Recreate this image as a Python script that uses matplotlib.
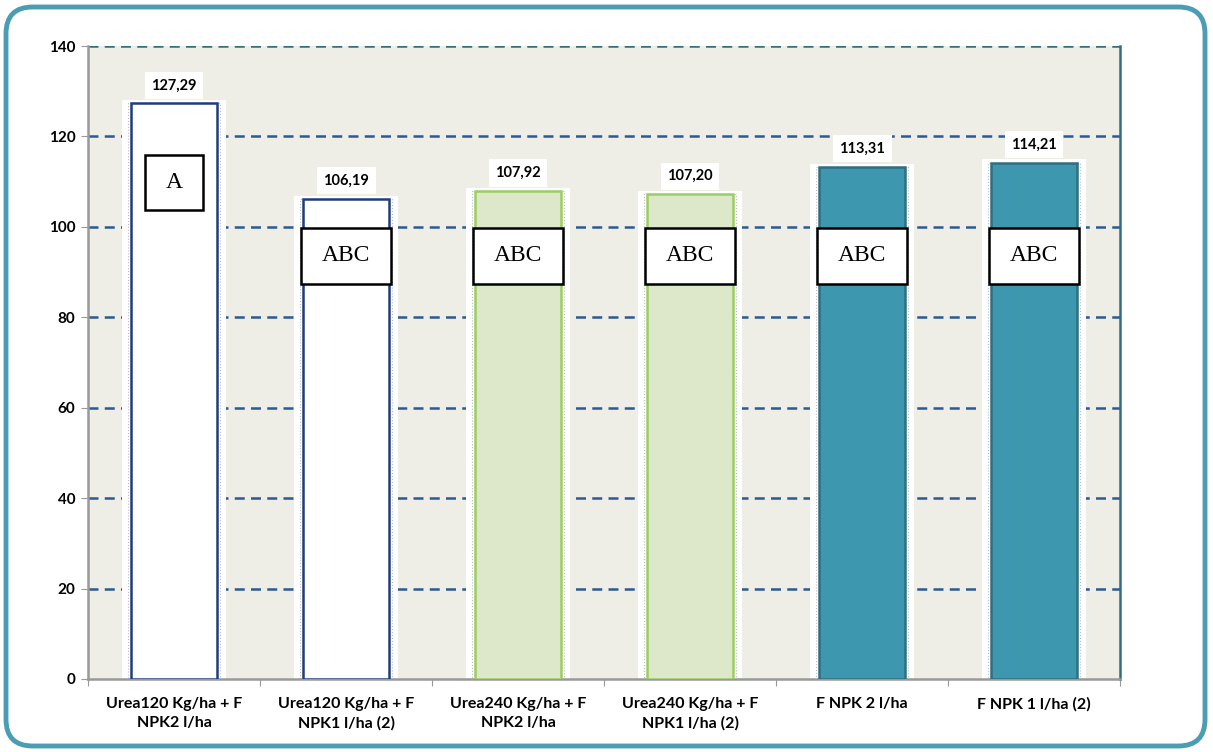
import numpy as np
import matplotlib.pyplot as plt
from matplotlib.patches import Rectangle, FancyBboxPatch

# ── Data ───────────────────────────────────────────────────────────────────────
categories = ['Urea120 Kg/ha + F\nNPK2 l/ha', 'Urea120 Kg/ha + F\nNPK1 l/ha (2)',
              'Urea240 Kg/ha + F\nNPK2 l/ha', 'Urea240 Kg/ha + F\nNPK1 l/ha (2)',
              'F NPK 2 l/ha', 'F NPK 1 l/ha (2)']
values  = [127.29, 106.19, 107.92, 107.20, 113.31, 114.21]
labels  = ['127,29', '106,19', '107,92', '107,20', '113,31', '114,21']
letters = ['A', 'ABC', 'ABC', 'ABC', 'ABC', 'ABC']

# ── Style ──────────────────────────────────────────────────────────────────────
faces = ['white', 'white', '#DDE7C9', '#DDE7C9', '#3D97AE', '#3D97AE']
edges = ['#1F3C7C', '#1F3C7C', '#9ACD62', '#9ACD62', '#2F6F80', '#2F6F80']
BG    = '#EFEEE6'
GRID  = '#2B5A94'

fig = plt.figure(figsize=(12.13, 7.52), dpi=100)
ax = fig.add_axes([88 / 1213, 1 - 679 / 752, (1120 - 88) / 1213, (679 - 46) / 752])
ax.set_facecolor(BG)

x = np.arange(len(values))

# white halo strips behind each bar
ax.bar(x, np.array(values) + 0.7, width=0.6, color='white', zorder=2)
ax.bar(x, values, width=0.535, color='none', edgecolor='#BBBBBB',
       linestyle=':', linewidth=0.8, zorder=2.5)
ax.bar(x, values, width=0.5, color=faces, edgecolor=edges, linewidth=1.8, zorder=3)

# value labels
for xi, v, lab in zip(x, values, labels):
    ax.annotate(lab, (xi, v), xytext=(0, 13), textcoords='offset points',
                ha='center', va='center', fontsize=10.5, fontweight='bold',
                family='Lato', zorder=5,
                bbox=dict(boxstyle='square,pad=0.45', fc='white', ec='none'))

# significance letter boxes
for xi, let in zip(x, letters):
    if let == 'A':
        w, y0, h = 0.34, 103.7, 12.2
    else:
        w, y0, h = 0.52, 87.4, 12.4
    ax.add_patch(Rectangle((xi - w / 2, y0), w, h, fc='white', ec='black',
                           lw=1.8, zorder=6))
    ax.text(xi, y0 + h / 2, let, ha='center', va='center', fontsize=17,
            family='Liberation Serif', zorder=7)

# grid
for gy in range(20, 141, 20):
    ax.axhline(gy, color=GRID if gy < 140 else '#2F6F80', ls=(0, (4, 2.5)),
               lw=1.8, zorder=1)

ax.set_xlim(-0.5, len(values) - 0.5)
ax.set_ylim(0, 140)
ax.set_yticks(range(0, 141, 20))
ax.set_xticks(np.arange(-0.5, len(values), 1.0))
ax.set_xticklabels([])
ax.set_xticks(x, minor=True)
ax.set_xticklabels(categories, minor=True, fontsize=11.5, fontweight='bold',
                   family='Lato', linespacing=1.45)
ax.tick_params(axis='x', which='minor', length=0, pad=13)
ax.tick_params(axis='x', which='major', length=5, color='#999999', direction='out')
ax.tick_params(axis='y', length=5, color='#999999', pad=4)
for t in ax.get_yticklabels():
    t.set_fontweight('bold')
    t.set_fontsize(11)
    t.set_family('Lato')

ax.spines['left'].set_color('#999999')
ax.spines['left'].set_linewidth(1.8)
ax.spines['bottom'].set_color('#999999')
ax.spines['bottom'].set_linewidth(1.8)
ax.spines['right'].set_color('#2F6F80')
ax.spines['right'].set_linewidth(1.8)
ax.spines['top'].set_visible(False)

# rounded outer frame
frame = FancyBboxPatch((6 / 1213, 6 / 752), 1199 / 1213, 739 / 752,
                       boxstyle='round,pad=0,rounding_size=0.022',
                       transform=fig.transFigure, fc='none', ec='#4A9DB3',
                       lw=3.5, zorder=10, mutation_aspect=1213 / 752)
fig.patches.append(frame)

plt.savefig('out.png', dpi=100)
